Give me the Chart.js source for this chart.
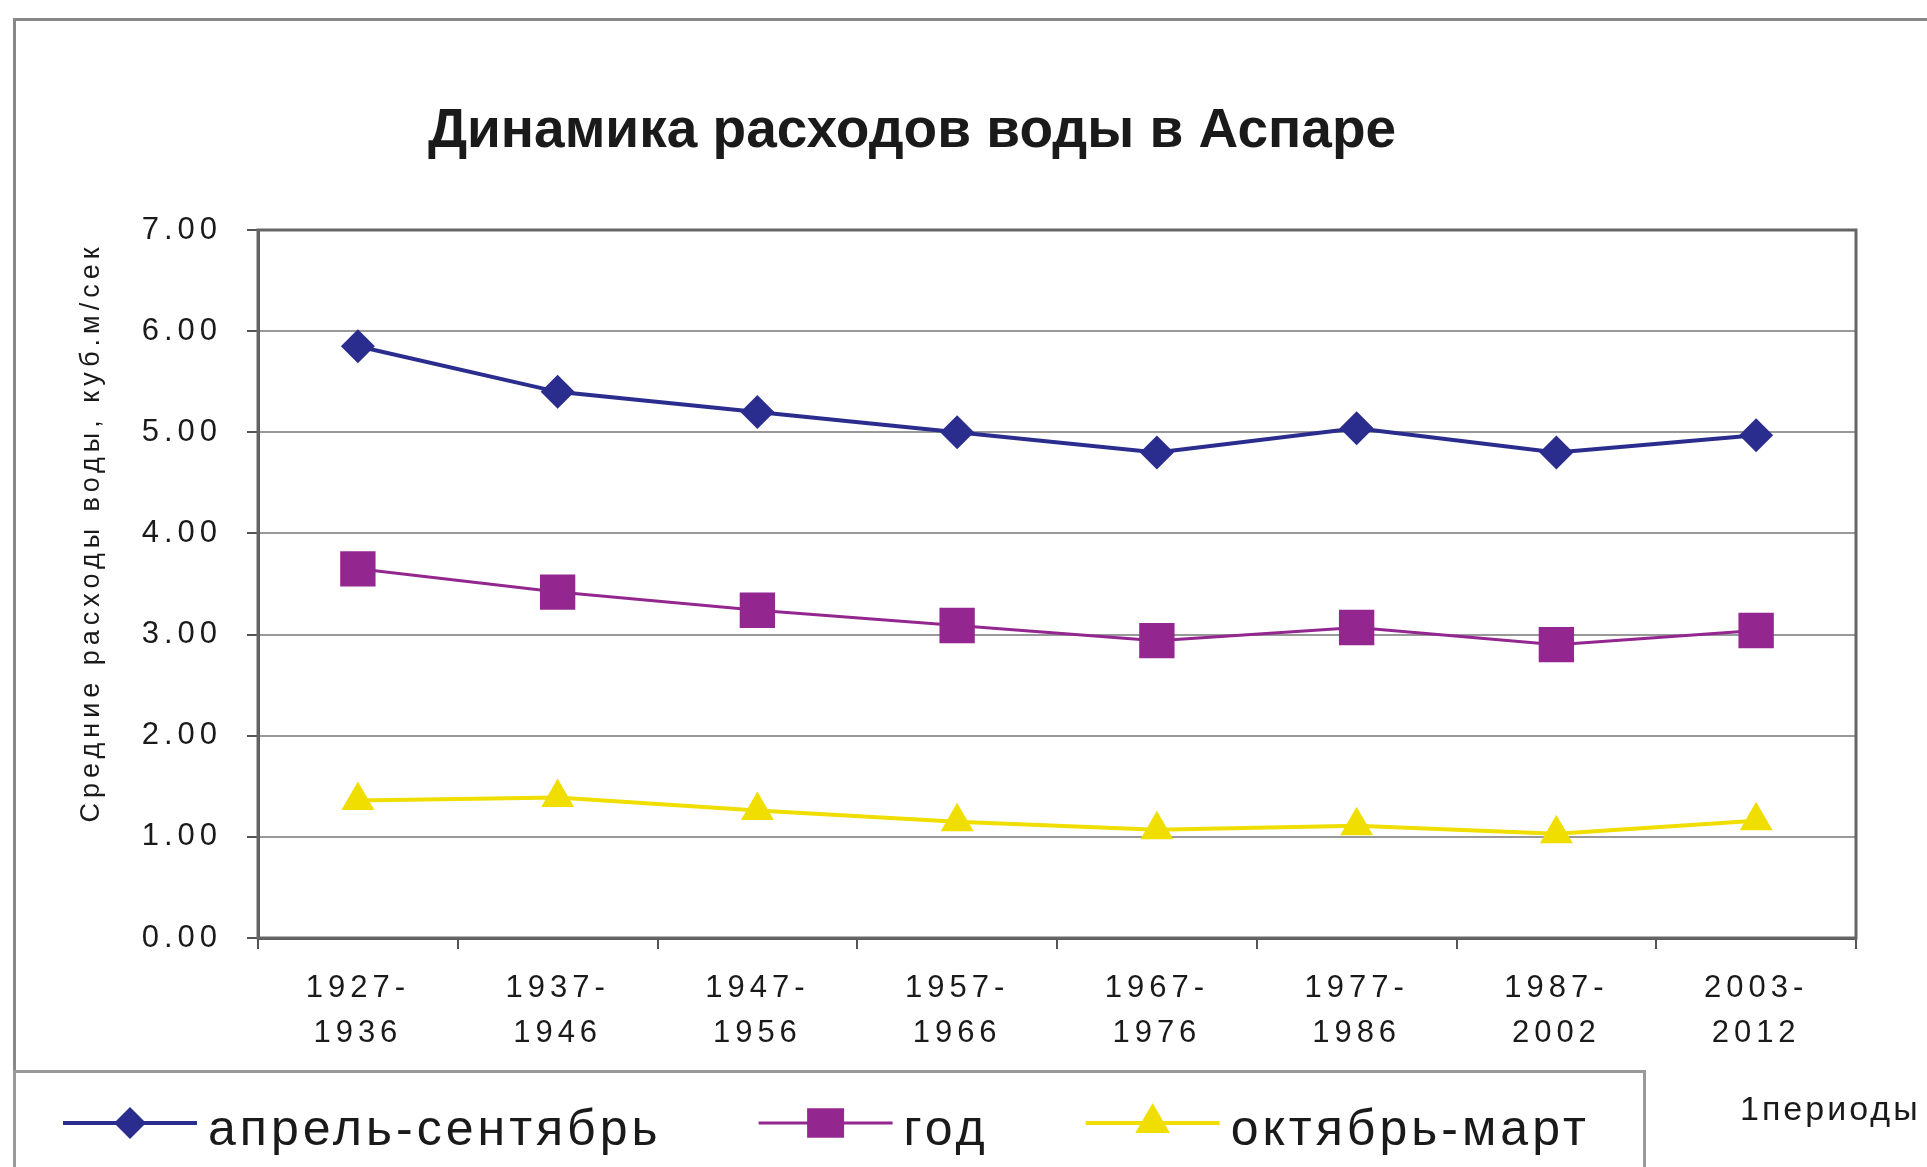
<!DOCTYPE html>
<html lang="ru">
<head>
<meta charset="utf-8">
<title>Динамика расходов воды в Аспаре</title>
<script src="https://cdn.jsdelivr.net/npm/chart.js@4.4.1/dist/chart.umd.min.js"></script>
<style>
  html, body { margin: 0; padding: 0; background: #fff; overflow: hidden; }
  #page { position: relative; width: 1927px; height: 1167px; }
  #frame { position: absolute; left: 13px; top: 18px; width: 3000px; height: 3000px; border: 3px solid #888; }
  #wrap { position: absolute; left: 0; top: 0; width: 1927px; height: 1167px; }
  #title { position: absolute; left: 0; top: 101px; width: 1824px; text-align: center;
           font: bold 55px/55px "Liberation Sans", Arial, sans-serif; color: #1a1a1a; }
</style>
</head>
<body>
<div id="page">
  <div id="frame"></div>
  <div id="wrap"><canvas id="flowChart"></canvas></div>
  <div id="title">Динамика расходов воды в Аспаре</div>
</div>
<script>
// периоды наблюдений
const periods = [
  ['1927-', '1936'], ['1937-', '1946'], ['1947-', '1956'], ['1957-', '1966'],
  ['1967-', '1976'], ['1977-', '1986'], ['1987-', '2002'], ['2003-', '2012']
];

// средние расходы воды, куб.м/сек
const aprilSeptember = [5.85, 5.40, 5.20, 5.00, 4.80, 5.04, 4.80, 4.97];
const wholeYear      = [3.65, 3.42, 3.24, 3.09, 2.94, 3.07, 2.90, 3.04];
const octoberMarch   = [1.36, 1.39, 1.26, 1.15, 1.07, 1.11, 1.03, 1.16];

const yTickValues = [0, 1, 2, 3, 4, 5, 6, 7];

const FONT = '"Liberation Sans", Arial, sans-serif';
Chart.defaults.font.family = FONT;

// разрядка букв как в оригинале (Excel)
const spacing = {
  id: 'spacing',
  beforeUpdate(chart) { chart.ctx.letterSpacing = '5px'; },
  beforeDraw(chart) { chart.ctx.letterSpacing = '5px'; }
};

// рамка области построения
const plotBorder = {
  id: 'plotBorder',
  beforeDatasetsDraw(chart) {
    const { ctx, chartArea: a } = chart;
    ctx.save();
    ctx.strokeStyle = '#666';
    ctx.lineWidth = 3;
    ctx.strokeRect(a.left, a.top, a.right - a.left, a.bottom - a.top);
    ctx.restore();
  }
};

// легенда в рамке снизу + подпись оси X
const legendMarkers = [
  { radius: 16 },
  { radius: 21, w: 37 },
  { radius: 20 }
];
const frameLegend = {
  id: 'frameLegend',
  afterDraw(chart) {
    const ctx = chart.ctx;
    const h = Chart.helpers;
    ctx.save();
    ctx.letterSpacing = '0px';
    ctx.strokeStyle = '#999';
    ctx.lineWidth = 3;
    ctx.strokeRect(14.5, 1071.5, 1630, 200);

    ctx.font = '50px ' + FONT;
    ctx.letterSpacing = '4px';
    ctx.textBaseline = 'alphabetic';
    let x = 63;
    const y = 1123;
    chart.data.datasets.forEach((ds, i) => {
      ctx.strokeStyle = ds.borderColor;
      ctx.lineWidth = ds.borderWidth;
      ctx.beginPath();
      ctx.moveTo(x, y);
      ctx.lineTo(x + 134, y);
      ctx.stroke();

      ctx.fillStyle = ds.pointBackgroundColor;
      const m = legendMarkers[i];
      const opts = { pointStyle: ds.pointStyle, radius: m.radius, rotation: 0, borderWidth: 0 };
      if (h.drawPointLegend) h.drawPointLegend(ctx, opts, x + 67, y, m.w);
      else h.drawPoint(ctx, opts, x + 67, y);

      ctx.fillStyle = '#1a1a1a';
      ctx.fillText(ds.label, x + 145, 1145);
      x += 145 + ctx.measureText(ds.label).width + 97;
    });

    ctx.font = '34px ' + FONT;
    ctx.letterSpacing = '3px';
    ctx.fillText('1периоды', 1740, 1120);
    ctx.restore();
  }
};

new Chart(document.getElementById('flowChart'), {
  type: 'line',
  data: {
    labels: periods,
    datasets: [
      {
        label: 'апрель-сентябрь',
        data: aprilSeptember,
        borderColor: '#2b2d8e',
        backgroundColor: '#2b2d8e',
        pointBackgroundColor: '#2b2d8e',
        borderWidth: 4,
        pointStyle: 'rectRot',
        pointRadius: 17,
        pointBorderWidth: 0
      },
      {
        label: 'год',
        data: wholeYear,
        borderColor: '#93278f',
        backgroundColor: '#93278f',
        pointBackgroundColor: '#93278f',
        borderWidth: 3,
        pointStyle: 'rect',
        pointRadius: 25,
        pointBorderWidth: 0
      },
      {
        label: 'октябрь-март',
        data: octoberMarch,
        borderColor: '#f0de00',
        backgroundColor: '#f0de00',
        pointBackgroundColor: '#f0de00',
        borderWidth: 4,
        pointStyle: 'triangle',
        pointRadius: 19,
        pointBorderWidth: 0
      }
    ]
  },
  options: {
    responsive: true,
    maintainAspectRatio: false,
    animation: false,
    layout: { padding: { top: 230, right: 71, bottom: 0, left: 0 } },
    plugins: {
      legend: { display: false },
      title: { display: false },
      tooltip: { enabled: false }
    },
    scales: {
      x: {
        offset: true,
        grid: { offset: true, drawOnChartArea: false, tickLength: 11, tickColor: '#555', lineWidth: 2 },
        border: { color: '#555', width: 3 },
        ticks: {
          color: '#1a1a1a',
          font: { size: 31, lineHeight: 1.45 },
          padding: 17,
          maxRotation: 0,
          autoSkip: false
        },
        afterFit(scale) { scale.height = 229; }
      },
      y: {
        min: 0,
        max: 7,
        afterBuildTicks(scale) { scale.ticks = yTickValues.map(v => ({ value: v })); },
        grid: { color: '#999', lineWidth: 2, tickLength: 11, tickColor: '#555' },
        border: { color: '#555', width: 3 },
        ticks: {
          color: '#1a1a1a',
          font: { size: 31 },
          padding: 25,
          callback: v => Number(v).toFixed(2)
        },
        title: {
          display: true,
          text: 'Средние расходы воды, куб.м/сек ',
          align: 'end',
          color: '#1a1a1a',
          font: { size: 27 },
          padding: { top: 75 }
        },
        afterFit(scale) { scale.width = 258; }
      }
    }
  },
  plugins: [spacing, plotBorder, frameLegend]
});
</script>
</body>
</html>
